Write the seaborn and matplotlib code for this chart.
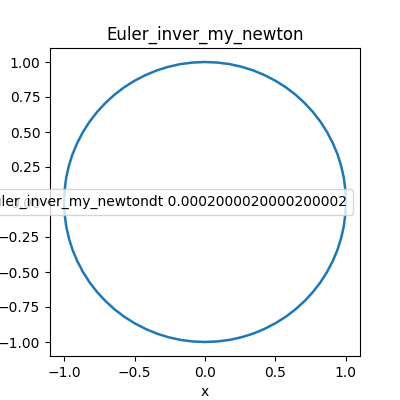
import matplotlib
matplotlib.use("Agg")
import matplotlib.pyplot as plt
import seaborn as sns

x_vals = [1.000, 0.996, 0.985, 0.966, 0.940, 0.906, 0.866, 0.819, 0.766, 0.707,
          0.643, 0.574, 0.500, 0.423, 0.342, 0.259, 0.174, 0.087, 0.000,
          -0.087, -0.174, -0.259, -0.342, -0.423, -0.500, -0.574, -0.643, -0.707,
          -0.766, -0.819, -0.866, -0.906, -0.940, -0.966, -0.985, -0.996, -1.000,
          -0.996, -0.985, -0.966, -0.940, -0.906, -0.866, -0.819, -0.766, -0.707,
          -0.643, -0.574, -0.500, -0.423, -0.342, -0.259, -0.174, -0.087, 0.000,
          0.087, 0.174, 0.259, 0.342, 0.423, 0.500, 0.574, 0.643, 0.707,
          0.766, 0.819, 0.866, 0.906, 0.940, 0.966, 0.985, 0.996, 1.000]
y_vals = [0.000, 0.087, 0.174, 0.259, 0.342, 0.423, 0.500, 0.574, 0.643, 0.707,
          0.766, 0.819, 0.866, 0.906, 0.940, 0.966, 0.985, 0.996, 1.000,
          0.996, 0.985, 0.966, 0.940, 0.906, 0.866, 0.819, 0.766, 0.707,
          0.643, 0.574, 0.500, 0.423, 0.342, 0.259, 0.174, 0.087, 0.000,
          -0.087, -0.174, -0.259, -0.342, -0.423, -0.500, -0.574, -0.643, -0.707,
          -0.766, -0.819, -0.866, -0.906, -0.940, -0.966, -0.985, -0.996, -1.000,
          -0.996, -0.985, -0.966, -0.940, -0.906, -0.866, -0.819, -0.766, -0.707,
          -0.643, -0.574, -0.500, -0.423, -0.342, -0.259, -0.174, -0.087, 0.000]

method = "Euler_inver_my_newton"
dt = "0.0002000020000200002"

fig, ax = plt.subplots(figsize=(4, 4), dpi=100)
sns.lineplot(x=x_vals, y=y_vals, sort=False, estimator=None, ax=ax,
             linewidth=1.8, label=method + "dt " + dt)
ax.set_title(method)
ax.set_xlabel("x")
ax.legend(loc="center right")
fig.savefig("out.png")
